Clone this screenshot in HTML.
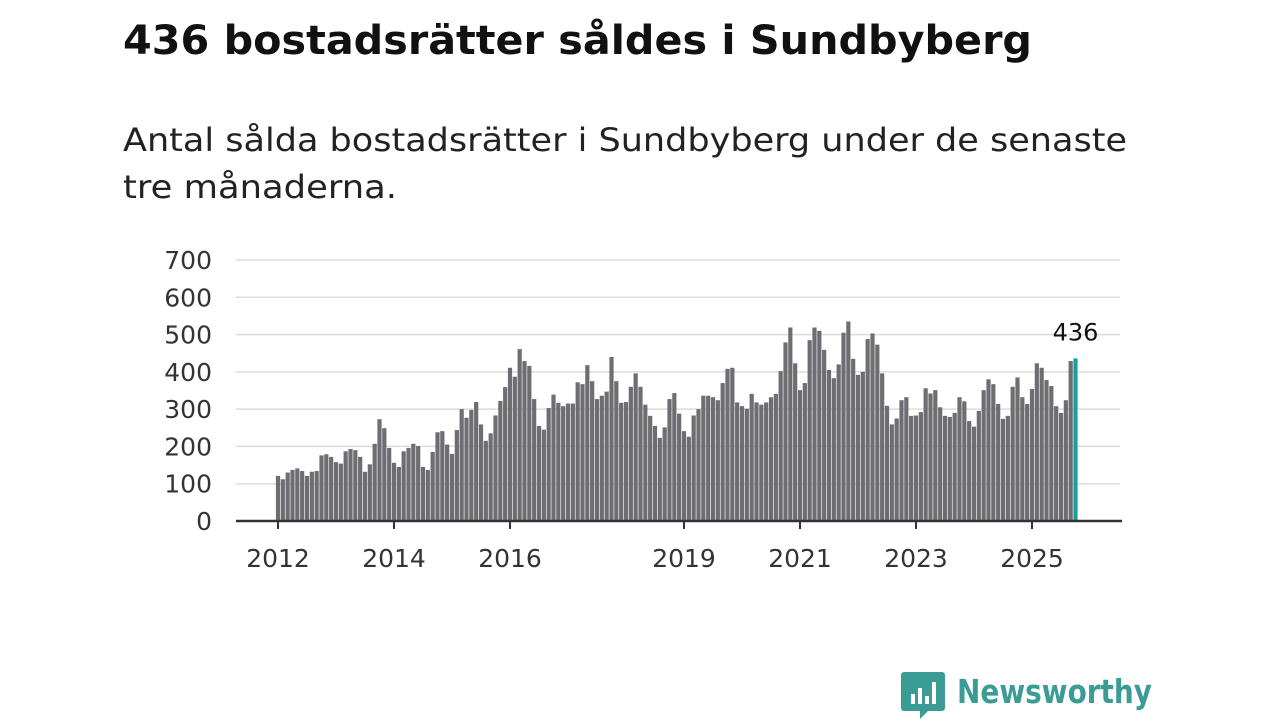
<!DOCTYPE html>
<html><head><meta charset="utf-8"><style>
body{margin:0;background:#fff;width:1280px;height:720px;overflow:hidden}
svg text{font-family:"DejaVu Sans","Liberation Sans",sans-serif}
</style></head><body>
<svg id="chart" width="1280" height="720">
<text x="123" y="54" font-size="40" font-weight="bold" fill="#111" textLength="909" lengthAdjust="spacingAndGlyphs">436 bostadsrätter såldes i Sundbyberg</text>
<text x="123" y="151" font-size="32" fill="#222" textLength="1004" lengthAdjust="spacingAndGlyphs">Antal sålda bostadsrätter i Sundbyberg under de senaste</text>
<text x="123" y="198" font-size="32" fill="#222" textLength="274" lengthAdjust="spacingAndGlyphs">tre månaderna.</text>
<g id="grid"></g><g id="bars"></g><g id="axes"></g>
<g>
<path d="M904 672 h38 a3 3 0 0 1 3 3 v33 a3 3 0 0 1 -3 3 h-14 l-8 8 v-8 h-16 a3 3 0 0 1 -3 -3 v-33 a3 3 0 0 1 3 -3z" fill="#3b9c95"/>
<rect x="911" y="694" width="4" height="10" fill="#fff"/><rect x="918" y="688" width="4" height="16" fill="#fff"/><rect x="925" y="696" width="4" height="8" fill="#fff"/><rect x="932" y="682" width="4" height="22" fill="#fff"/>
<text x="957" y="703" font-size="33" font-weight="bold" fill="#3b9c95" textLength="195" lengthAdjust="spacingAndGlyphs">Newsworthy</text>
</g>
</svg>
<script>
const yTicks=[0,100,200,300,400,500,600,700];
const yearLabels=["2012","2014","2016","2019","2021","2023","2025"];
const yearValues=[2012,2014,2016,2019,2021,2023,2025];
const startYear=2012;
const sales=[121,112,130,137,141,134,121,132,134,176,179,172,
158,154,187,193,190,172,132,152,207,273,249,196,
156,145,187,196,207,201,145,137,185,238,241,205,
180,244,300,277,298,319,259,215,235,283,322,359,
411,387,461,429,416,327,255,245,303,339,317,308,
315,315,372,367,418,375,327,336,347,440,375,317,
319,360,396,360,312,282,255,223,251,327,343,288,
241,226,283,300,336,336,332,324,370,408,411,318,
308,301,341,318,312,318,332,341,402,479,519,423,
351,370,485,519,510,459,405,383,420,505,535,435,
392,400,488,503,473,396,309,259,275,324,332,282,
283,292,356,342,351,305,282,279,290,332,321,268,
253,295,351,380,367,314,274,282,360,385,332,314,
354,423,411,378,362,308,290,324,429,436];
const NS="http://www.w3.org/2000/svg";
const y=v=>521-v*(261/700);
const x=i=>278+i*(58/12);
function mk(t,a,p){const e=document.createElementNS(NS,t);for(const k in a)e.setAttribute(k,a[k]);p.appendChild(e);return e;}
const grid=document.getElementById('grid'),bars=document.getElementById('bars'),axes=document.getElementById('axes');
yTicks.forEach(v=>{
 if(v>0){const l=mk('line',{x1:236,x2:1120,y1:y(v),y2:y(v),stroke:'#dcdcdc','stroke-width':1.5},grid);
 
 }
 const t=mk('text',{x:212,y:y(v)+9,'font-size':25,fill:'#333','text-anchor':'end'},grid);
 t.textContent=v;
 
 
});
sales.forEach((v,i)=>{
 const last=i===sales.length-1;
 const r=mk('rect',{x:x(i)-2.1,y:y(v),width:4.2,height:521-y(v),fill:last?'#1a9e9a':'#6e6d72'},bars);
 
 
 if(last){const t=mk('text',{x:x(i),y:y(v)-18,'font-size':24,fill:'#111','text-anchor':'middle'},bars);
 t.textContent=v;
 
 }
});
const ax=mk('line',{x1:236,x2:1122,y1:521,y2:521,stroke:'#333','stroke-width':2.5},axes);


yearValues.forEach((yr,k)=>{
 const px=x((yr-startYear)*12);
 const tk=mk('line',{x1:px,x2:px,y1:521,y2:529,stroke:'#333','stroke-width':2},axes);
 
 
 const t=mk('text',{x:px,y:567,'font-size':25,fill:'#333','text-anchor':'middle'},axes);
 t.textContent=yearLabels[k];
 
 
});
</script>
</body></html>
